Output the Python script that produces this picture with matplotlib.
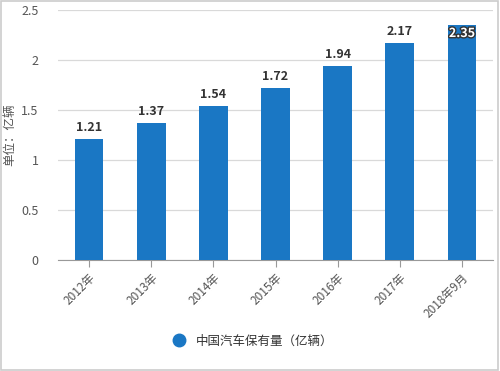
import matplotlib.pyplot as plt
import matplotlib.patheffects as pe
from matplotlib.lines import Line2D

plt.rcParams['font.family'] = ['Noto Sans CJK SC', 'DejaVu Sans']

years = ["2012年", "2013年", "2014年", "2015年", "2016年", "2017年", "2018年9月"]
stock = [1.21, 1.37, 1.54, 1.72, 1.94, 2.17, 2.35]
y_ticks = [0, 0.5, 1, 1.5, 2, 2.5]
y_tick_labels = ["0", "0.5", "1", "1.5", "2", "2.5"]

BAR = "#1a77c4"
GRID = "#d9d9d9"
TEXT = "#555555"

fig = plt.figure(figsize=(5.0, 3.71), dpi=100)
ax = fig.add_axes([0.116, 0.299, 0.870, 0.674])

x = list(range(len(years)))
ax.bar(x, stock, width=0.46, color=BAR, zorder=3)

for i, v in enumerate(stock):
    if i == len(stock) - 1:
        ax.text(i, v - 0.02, f"{v:.2f}", ha="center", va="top", fontsize=9,
                fontweight="bold", color="white", zorder=4,
                path_effects=[pe.withStroke(linewidth=2, foreground="#333333")])
    else:
        ax.text(i, v + 0.05, f"{v:.2f}", ha="center", va="bottom", fontsize=9,
                fontweight="bold", color="#333333", zorder=4)

ax.set_xlim(-0.5, len(years) - 0.5)
ax.set_ylim(0, 2.5)
ax.set_yticks(y_ticks)
ax.set_yticklabels(y_tick_labels, color=TEXT, fontsize=9)
ax.tick_params(axis="y", length=0, pad=14)
ax.set_xticks(x)
ax.set_xticklabels(years, rotation=45, ha="right", rotation_mode="anchor",
                   color=TEXT, fontsize=8.5)
ax.tick_params(axis="x", length=5, color="#999999", pad=3)
ax.grid(axis="y", color=GRID, linewidth=0.9, zorder=0)
for side in ["top", "right", "left"]:
    ax.spines[side].set_visible(False)
ax.spines["bottom"].set_color("#999999")
ax.set_ylabel("单位：亿辆", color=TEXT, fontsize=9)
ax.yaxis.set_label_coords(-0.095, 0.5)

handle = Line2D([], [], marker="o", linestyle="none", markersize=9,
                markerfacecolor=BAR, markeredgecolor=BAR)
fig.legend([handle], ["中国汽车保有量（亿辆）"], loc="center",
           bbox_to_anchor=(0.5, 0.08), frameon=False, fontsize=9,
           handletextpad=0.4, labelcolor="#333333")

fig.patches.append(plt.Rectangle((0.002, 0.003), 0.994, 0.994, transform=fig.transFigure,
                                 fill=False, edgecolor="#cccccc", linewidth=1.2))

fig.savefig("out.png", dpi=100)
